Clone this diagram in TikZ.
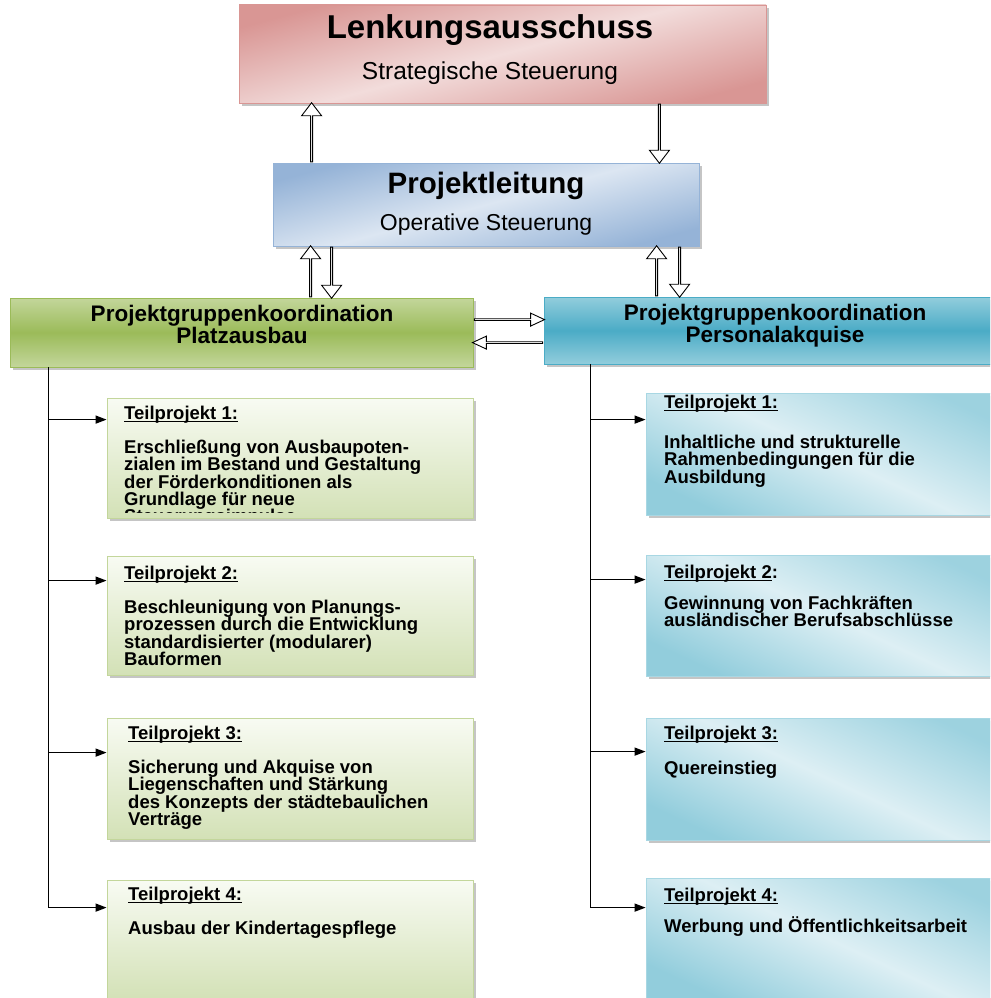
\documentclass[tikz,border=0pt]{standalone}
\usepackage{fontspec}
\setmainfont{Liberation Sans}
\usetikzlibrary{calc,shapes.arrows,shadows,arrows.meta}

\definecolor{lenkdark}{HTML}{D99694}
\definecolor{lenklight}{HTML}{F2DCDB}
\definecolor{leitdark}{HTML}{95B3D7}
\definecolor{leitlight}{HTML}{DCE6F2}
\definecolor{gruen}{HTML}{9BBB59}
\definecolor{gruenhell}{HTML}{C3D69B}
\definecolor{gruenblass}{HTML}{D3E1B6}
\definecolor{gruenweiss}{HTML}{F8FBF3}
\definecolor{tuerkis}{HTML}{4BACC6}
\definecolor{tuerkishell}{HTML}{92CDDC}
\definecolor{tuerkisblass}{HTML}{DDEFF4}

\newcommand{\fs}[2]{\fontsize{#1}{#2}\selectfont\lineskiplimit=-20pt}
\newcommand{\tpul}[1]{\setbox0\hbox{#1}\rlap{\rule[-2.2pt]{\wd0}{1.1pt}}\box0}

\tikzset{
    box/.style={rectangle, inner sep=0pt, line width=0.8pt,
        drop shadow={shadow xshift=3pt, shadow yshift=-3pt, fill=black!45}},
    lenkbox/.style={box, draw=lenkdark, top color=lenkdark, bottom color=lenkdark, middle color=lenklight, shading angle=15},
    leitbox/.style={box, draw=leitdark, top color=leitdark, bottom color=leitdark, middle color=leitlight, shading angle=15},
    pgplatz/.style={box, draw=gruen, top color=gruenhell, bottom color=gruenhell, middle color=gruen},
    pgpers/.style={box, draw=tuerkis, top color=tuerkishell, bottom color=tuerkishell, middle color=tuerkis},
    tpplatz/.style={box, draw=gruenhell, top color=gruenweiss, bottom color=gruenblass, minimum width=366pt},
    tppers/.style={box, draw=tuerkishell!80, top color=tuerkishell!90, bottom color=tuerkishell, middle color=tuerkisblass, shading angle=-25, minimum width=366pt},
    headtext/.style={font=\fs{33}{35}\bfseries, inner sep=0pt, anchor=base},
    subtext/.style={font=\fs{24.5}{27}, inner sep=0pt, anchor=base},
    pgtext/.style={font=\fs{22.5}{22}\bfseries, align=center, inner sep=0pt, anchor=north},
    tptext/.style={font=\fs{18.5}{17.2}\bfseries, align=left, inner sep=0pt, anchor=north west},
    vpfeil/.style={draw, fill=white, line width=0.9pt, single arrow, inner sep=0pt,
        minimum width=20pt, single arrow head extend=4pt, single arrow tip angle=75},
    hpfeil/.style={vpfeil, minimum width=13pt, single arrow head extend=3pt, single arrow tip angle=50},
    tree/.style={line width=1.4pt},
    treearrow/.style={tree, -{Triangle[length=11pt,width=8pt]}}
}

% hohler Blockpfeil von #2 nach #3
\newcommand{\blockpfeil}[3][vpfeil]{%
    \path let \p1=(#2), \p2=(#3), \n1={veclen(\x2-\x1,\y2-\y1)}, \n2={atan2(\y2-\y1,\x2-\x1)} in
        node[#1, minimum height=\n1, rotate=\n2] at ($(#2)!0.5!(#3)$) {};}

\begin{document}
\begin{tikzpicture}[x=1pt, y=-1pt]
    \useasboundingbox (0,0) rectangle (990,998);
    \clip (0,0) rectangle (990,998);
    \fill[white] (0,0) rectangle (990,998);

    % Steuerungsebenen
    \node[lenkbox, minimum width=527pt, minimum height=98pt] (lenk) at (502.5,54) {};
    \node[headtext] (lenkT) at (490,39) {Lenkungsausschuss};
    \node[subtext] (lenkS) at (490,79) {Strategische Steuerung};

    \node[leitbox, minimum width=426pt, minimum height=83pt] (leit) at (486,204.5) {};
    \node[headtext, font=\fs{29.5}{32}\bfseries] (leitT) at (486,193) {Projektleitung};
    \node[subtext, font=\fs{23}{25}] (leitS) at (486,230) {Operative Steuerung};

    \node[pgplatz, minimum width=463pt, minimum height=69pt] (platz) at (241.5,332.5) {};
    \node[pgtext] (platzT) at (242,305) {Projektgruppenkoordination\\Platzausbau};

    \node[pgpers, minimum width=462pt, minimum height=67pt] (pers) at (775,330.5) {};
    \node[pgtext] (persT) at (775,304) {Projektgruppenkoordination\\Personalakquise};

    % Teilprojekte Platzausbau
    \node[tpplatz, minimum height=120pt] (tp1p) at (290,458) {};
    \begin{scope}
        \clip (tp1p.north west) rectangle ([yshift=6pt]tp1p.south east);
        \node[tptext] (tp1pT) at (124,406) {\tpul{Teilprojekt 1:}\\[16.8pt]Erschließung von Ausbaupoten-\\zialen im Bestand und Gestaltung\\der Förderkonditionen als\\Grundlage für neue\\Steuerungsimpulse};
    \end{scope}

    \node[tpplatz, minimum height=119pt] (tp2p) at (290,615.5) {};
    \node[tptext] (tp2pT) at (124,566) {\tpul{Teilprojekt 2:}\\[16.8pt]Beschleunigung von Planungs-\\prozessen durch die Entwicklung\\standardisierter (modularer)\\Bauformen};

    \node[tpplatz, minimum height=121pt] (tp3p) at (290,778.5) {};
    \node[tptext] (tp3pT) at (128,726) {\tpul{Teilprojekt 3:}\\[16.8pt]Sicherung und Akquise von\\Liegenschaften und Stärkung\\des Konzepts der städtebaulichen\\Verträge};

    \node[tpplatz, minimum height=120pt] (tp4p) at (290,940) {};
    \node[tptext] (tp4pT) at (128,887) {\tpul{Teilprojekt 4:}\\[16.8pt]Ausbau der Kindertagespflege};

    % Teilprojekte Personalakquise
    \node[tppers, minimum height=122pt] (tp1q) at (829,454) {};
    \node[tptext] (tp1qT) at (664,395) {\tpul{Teilprojekt 1:}\\[22.8pt]Inhaltliche und strukturelle\\Rahmenbedingungen für die\\Ausbildung};

    \node[tppers, minimum height=121pt] (tp2q) at (829,615.5) {};
    \node[tptext] (tp2qT) at (664,565) {\tpul{Teilprojekt 2}:\\[13.8pt]Gewinnung von Fachkräften\\ausländischer Berufsabschlüsse};

    \node[tppers, minimum height=122pt] (tp3q) at (829,779) {};
    \node[tptext] (tp3qT) at (664,726) {\tpul{Teilprojekt 3:}\\[17.8pt]Quereinstieg};

    \node[tppers, minimum height=122pt] (tp4q) at (829,939) {};
    \node[tptext] (tp4qT) at (664,888) {\tpul{Teilprojekt 4:}\\[13.8pt]Werbung und Öffentlichkeitsarbeit};

    % Blockpfeile zwischen den Ebenen
    \coordinate (upL) at ([xshift=39pt]leit.north west);
    \coordinate (upLend) at (upL |- lenk.south);
    \coordinate (dnL) at ([xshift=-40pt]leit.north east);
    \coordinate (dnLstart) at (dnL |- lenk.south);
    \blockpfeil{upL}{upLend}
    \blockpfeil{dnLstart}{dnL}

    \coordinate (upP) at ([xshift=301pt]platz.north west);
    \coordinate (upPend) at (upP |- leit.south);
    \coordinate (dnP) at ([xshift=322pt]platz.north west);
    \coordinate (dnPstart) at (dnP |- leit.south);
    \blockpfeil{upP}{upPend}
    \blockpfeil{dnPstart}{dnP}

    \coordinate (upQ) at ([xshift=113pt]pers.north west);
    \coordinate (upQend) at (upQ |- leit.south);
    \coordinate (dnQ) at ([xshift=136pt]pers.north west);
    \coordinate (dnQstart) at (dnQ |- leit.south);
    \blockpfeil{upQ}{upQend}
    \blockpfeil{dnQstart}{dnQ}

    \coordinate (reP) at ([yshift=-22pt]platz.north east);
    \coordinate (reQ) at (reP -| pers.west);
    \coordinate (liP) at ([yshift=-45pt]platz.north east);
    \coordinate (liQ) at (liP -| pers.west);
    \blockpfeil[hpfeil]{reP}{reQ}
    \blockpfeil[hpfeil]{liQ}{liP}

    % Verbindungen zu den Teilprojekten
    \coordinate (stemP) at ([xshift=39pt]platz.south west);
    \coordinate (in1p) at ([yshift=-22pt]tp1p.north west);
    \coordinate (in2p) at ([yshift=-25pt]tp2p.north west);
    \coordinate (in3p) at ([yshift=-35pt]tp3p.north west);
    \coordinate (in4p) at ([yshift=-28pt]tp4p.north west);
    \draw[tree] (stemP) -- (stemP |- in4p);
    \draw[treearrow] (stemP |- in1p) -- (in1p);
    \draw[treearrow] (stemP |- in2p) -- (in2p);
    \draw[treearrow] (stemP |- in3p) -- (in3p);
    \draw[treearrow] (stemP |- in4p) -- (in4p);

    \coordinate (stemQ) at ([xshift=47pt]pers.south west);
    \coordinate (in1q) at ([yshift=-27pt]tp1q.north west);
    \coordinate (in2q) at ([yshift=-25pt]tp2q.north west);
    \coordinate (in3q) at ([yshift=-34pt]tp3q.north west);
    \coordinate (in4q) at ([yshift=-30pt]tp4q.north west);
    \draw[tree] (stemQ) -- (stemQ |- in4q);
    \draw[treearrow] (stemQ |- in1q) -- (in1q);
    \draw[treearrow] (stemQ |- in2q) -- (in2q);
    \draw[treearrow] (stemQ |- in3q) -- (in3q);
    \draw[treearrow] (stemQ |- in4q) -- (in4q);
\end{tikzpicture}
\end{document}
